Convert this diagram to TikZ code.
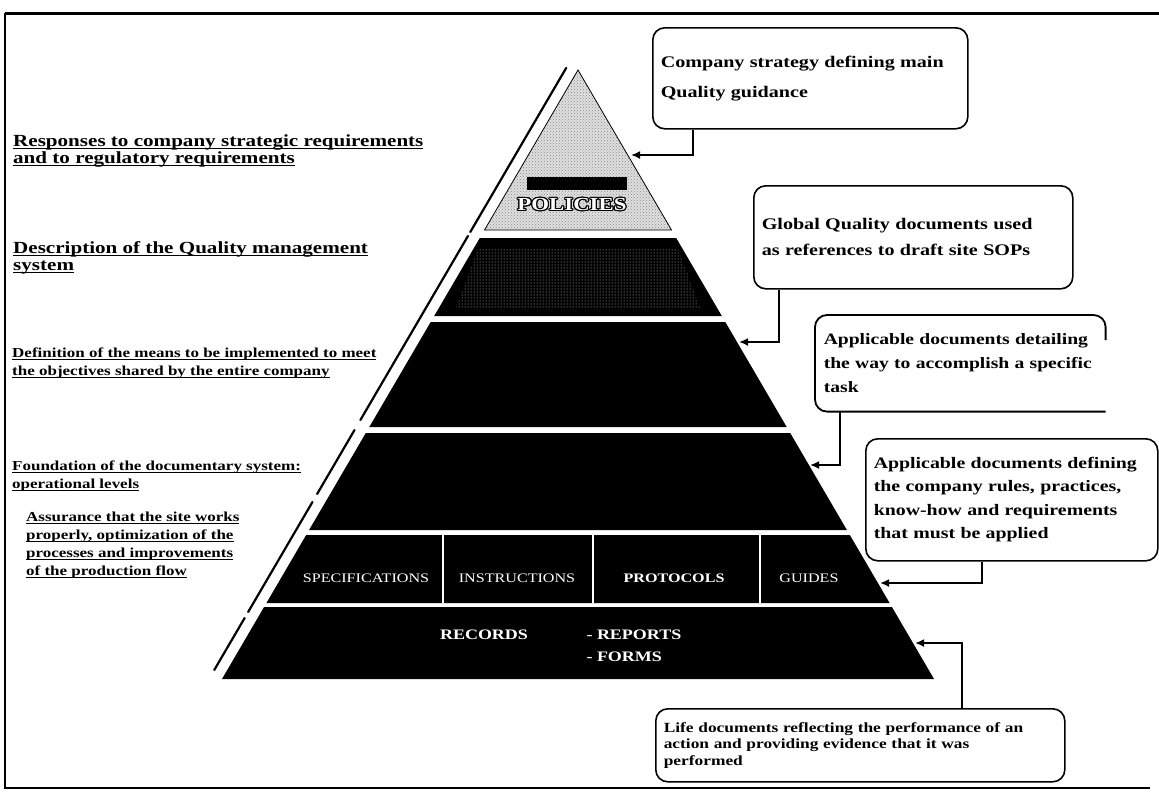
\documentclass[tikz,border=0pt]{standalone}
\usepackage{fontspec}
\setmainfont{Liberation Serif}[FakeStretch=1.24]
\usepackage{contour}
\contourlength{1.1pt}
\usetikzlibrary{arrows.meta,patterns,calc}
\newcommand\ulx[1]{\leavevmode\setbox0\hbox{#1}\rlap{\rule[-2.8pt]{\wd0}{1.3pt}}\box0}

\begin{document}
\begin{tikzpicture}[x=1pt,y=-1pt,
  lbl/.style={anchor=west,align=left,inner sep=0pt,font=\bfseries\fontsize{17}{17}\selectfont},
  smalllbl/.style={lbl,font=\bfseries\fontsize{13.7}{18}\selectfont},
  infobox/.style={draw,line width=1.6pt,rounded corners=12pt,anchor=north west,align=left,inner xsep=8pt,inner ysep=0pt},
  conn/.style={line width=2pt,-{Latex[length=9pt,width=8pt]}},
  rowtxt/.style={text=white,font=\fontsize{13}{13}\selectfont},
  rectxt/.style={text=white,font=\bfseries\fontsize{14.5}{22}\selectfont}]
\useasboundingbox (0,0) rectangle (1159,793);
\draw[line width=3pt] (1159,13) -- (5,13);
\draw[line width=2pt] (5,13) -- (5,788) -- (1150,788);
\coordinate (apex) at (578,70);
\fill[gray!25] (apex) -- (671.5,230) -- (484.5,230) -- cycle;
\fill[pattern=crosshatch dots,pattern color=black!45] (apex) -- (671.5,230) -- (484.5,230) -- cycle;
\draw[line width=0.8pt] (apex) -- (671.5,230) -- (484.5,230) -- cycle;
\foreach \ya/\yb in {238/316,322/427,433/530,535/603,607/679}
  \fill ({578-0.5846*(\ya-70)},\ya) -- ({578+0.5846*(\ya-70)},\ya) -- ({578+0.5846*(\yb-70)},\yb) -- ({578-0.5846*(\yb-70)},\yb) -- cycle;
\fill[pattern=dots,pattern color=gray!40] (478,248) -- (678,248) -- (700,308) -- (456,308) -- cycle;
\foreach \ya/\yb in {68/232,236/420,430/494,502/612,618/670}
  \draw[line width=2.2pt,line cap=round] ({565-0.5846*(\ya-70)},\ya) -- ({565-0.5846*(\yb-70)},\yb);
\fill (527,177) rectangle (627,190);
\node[text=white,font=\bfseries\fontsize{18.4}{18}\selectfont] (policies) at (572,205) {\contour{black}{POLICIES}};
\foreach \xd in {443,593,760}
  \draw[white,line width=1.5pt] (\xd,535) -- (\xd,603);
\node[rowtxt] (specs) at (366,578) {SPECIFICATIONS};
\node[rowtxt] (instr) at (517,578) {INSTRUCTIONS};
\node[rowtxt,font=\bfseries\fontsize{13}{13}\selectfont] (protocols) at (674,578) {PROTOCOLS};
\node[rowtxt] (guides) at (809,578) {GUIDES};
\node[rectxt] (records) at (484,635) {RECORDS};
\node[rectxt,anchor=west,align=left] (reports) at (583,646) {- REPORTS\\- FORMS};
\node[lbl] (responses) at (13,151) {\ulx{Responses to company strategic requirements}\\\ulx{and to regulatory requirements}};
\node[lbl] (description) at (13,258) {\ulx{Description of the Quality management}\\\ulx{system}};
\node[smalllbl] (definition) at (12,363) {\ulx{Definition of the means to be implemented to meet}\\\ulx{the objectives shared by the entire company}};
\node[smalllbl] (foundation) at (12,476) {\ulx{Foundation of the documentary system:}\\\ulx{operational levels}};
\node[smalllbl] (assurance) at (26,545) {\ulx{Assurance that the site works}\\\ulx{properly, optimization of the}\\\ulx{processes and improvements}\\\ulx{of the production flow}};
\node[infobox,minimum width=313pt,minimum height=101pt,text width=299pt,font=\bfseries\fontsize{16.2}{30}\selectfont] (boxStrategy) at (652,27) {Company strategy defining main\\Quality guidance};
\node[infobox,minimum width=317pt,minimum height=103pt,text width=303pt,font=\bfseries\fontsize{16.2}{26}\selectfont] (boxGlobal) at (753,185) {Global Quality documents used\\as references to draft site SOPs};
\node[infobox,draw=none,minimum width=285pt,minimum height=95pt,text width=273pt,font=\bfseries\fontsize{15.8}{24}\selectfont] (boxTask) at (815,315) {Applicable documents detailing\\the way to accomplish a specific\\task};
\draw[line width=1.8pt,rounded corners=12pt] ([yshift=-25pt]boxTask.north east) |- (boxTask.north west) |- (boxTask.south east);
\node[infobox,minimum width=290pt,minimum height=122pt,text width=276pt,font=\bfseries\fontsize{16}{23.5}\selectfont] (boxRules) at (865,438) {Applicable documents defining\\the company rules, practices,\\know-how and requirements\\that must be applied};
\node[infobox,minimum width=407pt,minimum height=73pt,text width=393pt,font=\bfseries\fontsize{14}{16.5}\selectfont] (boxLife) at (655,708) {Life documents reflecting the performance of an\\action and providing evidence that it was\\performed};
\coordinate (tipPol) at (631,155);
\coordinate (tipTwo) at (739,342);
\coordinate (tipThree) at (810,465);
\coordinate (tipSpec) at (880,583);
\coordinate (tipRec) at (915,643);
\draw[conn] ([xshift=41pt]boxStrategy.south west) |- (tipPol);
\draw[conn] ([xshift=26pt]boxGlobal.south west) |- (tipTwo);
\draw[conn] ([xshift=25pt]boxTask.south west) |- (tipThree);
\draw[conn] ([xshift=117pt]boxRules.south west) |- (tipSpec);
\draw[conn] ([xshift=307pt]boxLife.north west) |- (tipRec);
\end{tikzpicture}
\end{document}
